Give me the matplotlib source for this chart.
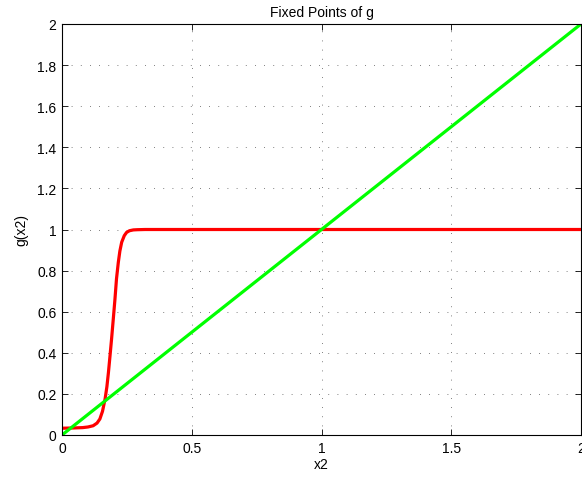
import matplotlib
matplotlib.use("Agg")
import matplotlib.pyplot as plt
from matplotlib.ticker import FixedLocator

plt.rcParams["font.family"] = ["Liberation Sans", "DejaVu Sans"]

# red curve g(x2)
g_x = [0.0, 0.04, 0.08, 0.10, 0.12, 0.135, 0.146, 0.156, 0.166, 0.173, 0.179,
       0.185, 0.191, 0.198, 0.204, 0.210, 0.217, 0.223, 0.230, 0.240, 0.249,
       0.260, 0.275, 0.29, 0.32, 0.5, 1.0, 1.5, 2.0]
g_y = [0.033, 0.034, 0.036, 0.039, 0.045, 0.058, 0.078, 0.115, 0.175, 0.235, 0.305,
       0.385, 0.467, 0.57, 0.66, 0.76, 0.84, 0.895, 0.938, 0.970, 0.986,
       0.994, 0.998, 0.999, 1.0, 1.0, 1.0, 1.0, 1.0]

# green identity line
line_x = [0.0, 2.0]
line_y = [0.0, 2.0]

x_ticks = [0, 0.5, 1, 1.5, 2]
x_labels = ["0", "0.5", "1", "1.5", "2"]
y_ticks = [0, 0.2, 0.4, 0.6, 0.8, 1.0, 1.2, 1.4, 1.6, 1.8, 2.0]
y_labels = ["0", "0.2", "0.4", "0.6", "0.8", "1", "1.2", "1.4", "1.6", "1.8", "2"]

fig = plt.figure(figsize=(5.82, 4.81), dpi=100)
ax = fig.add_axes([62 / 582, 45 / 481, 519 / 582, 411 / 481])

ax.plot(g_x, g_y, color="#ff0000", linewidth=2.3, solid_capstyle="butt")
ax.plot(line_x, line_y, color="#00ff00", linewidth=2.3, solid_capstyle="butt")

ax.set_xlim(0, 2)
ax.set_ylim(0, 2)
ax.xaxis.set_major_locator(FixedLocator(x_ticks))
ax.yaxis.set_major_locator(FixedLocator(y_ticks))
ax.set_xticklabels(x_labels)
ax.set_yticklabels(y_labels)
ax.tick_params(direction="in", length=4, width=0.6, labelsize=10,
               top=True, right=True, pad=4)
ax.grid(True, color="#555555", linestyle=(0, (1, 10)), linewidth=0.6)
for s in ax.spines.values():
    s.set_linewidth(0.8)

ax.set_title("Fixed Points of g", fontsize=10, pad=6)
ax.set_xlabel("x2", fontsize=10, labelpad=2)
ax.set_ylabel("g(x2)", fontsize=10, labelpad=6)

fig.savefig("out.png", dpi=100)
